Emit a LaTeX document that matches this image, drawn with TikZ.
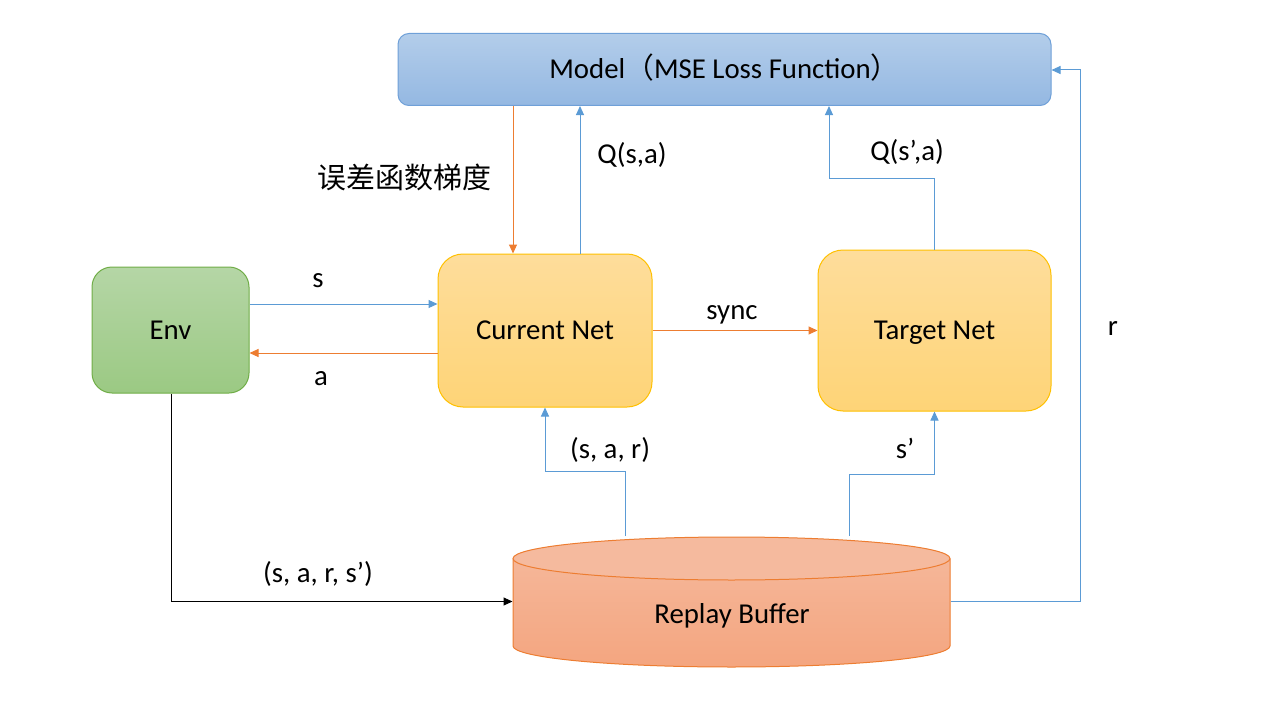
\documentclass[tikz,border=0pt]{standalone}
\usepackage{fontspec}
\setmainfont{Carlito}
\newfontfamily\cjk{Noto Sans CJK SC}
\usetikzlibrary{arrows.meta}
\definecolor{mtop}{HTML}{B3CDEA}
\definecolor{mbot}{HTML}{94B8E2}
\definecolor{mline}{HTML}{6FA0D8}
\definecolor{gtop}{HTML}{B5D6A6}
\definecolor{gbot}{HTML}{9BC983}
\definecolor{gline}{HTML}{70AD47}
\definecolor{ytop}{HTML}{FEDD9B}
\definecolor{ybot}{HTML}{FED477}
\definecolor{yline}{HTML}{FFC000}
\definecolor{btop}{HTML}{F5BA9E}
\definecolor{bbot}{HTML}{F4A57F}
\definecolor{bline}{HTML}{ED7D31}
\definecolor{lblue}{HTML}{5B9BD5}
\definecolor{lorange}{HTML}{ED7D31}
\begin{document}
\begin{tikzpicture}[x=1pt,y=-1pt,
  font=\fontsize{28.8}{34}\selectfont,
  boxnode/.style={line width=1pt, inner sep=0pt, text height=18.5pt, text depth=0pt},
  lbl/.style={anchor=base, inner sep=0pt},
  tipstyle/.style={-{Triangle[length=9pt,width=8pt]}},
  barrow/.style={draw=lblue, line width=1pt, tipstyle},
  oarrow/.style={draw=lorange, line width=1pt, tipstyle},
  karrow/.style={draw=black, line width=1pt, tipstyle}]
\useasboundingbox (0,0) rectangle (1262,709);

% boxes
\node[boxnode, draw=mline, top color=mtop, bottom color=mbot, rounded corners=11pt,
      minimum width=653pt, minimum height=72pt] (model) at (724.5,69.5)
      {Model{\cjk （}MSE Loss Function{\cjk ）}};
\node[boxnode, draw=gline, top color=gtop, bottom color=gbot, rounded corners=20pt,
      minimum width=157pt, minimum height=126pt] (env) at (170.5,330) {Env};
\node[boxnode, draw=yline, top color=ytop, bottom color=ybot, rounded corners=25pt,
      minimum width=214pt, minimum height=153pt] (cur) at (545,330.5) {Current Net};
\node[boxnode, draw=yline, top color=ytop, bottom color=ybot, rounded corners=25pt,
      minimum width=233pt, minimum height=161pt] (tgt) at (934.5,330.5) {Target Net};

% cylinder
\begin{scope}
  \clip (513,558.5) -- (513,646) arc[start angle=180,end angle=0,x radius=218.5,y radius=21]
        -- (950,558.5) arc[start angle=0,end angle=-180,x radius=218.5,y radius=21.5] -- cycle;
  \shade[top color=btop, bottom color=bbot] (510,535) rectangle (953,669);
\end{scope}
\draw[draw=bline, line width=1pt] (513,558.5) -- (513,646)
      arc[start angle=180,end angle=0,x radius=218.5,y radius=21] -- (950,558.5);
\draw[draw=bline, line width=1pt, fill=btop] (731.5,558.5) ellipse [x radius=218.5, y radius=21.5];
\node[boxnode, minimum width=437pt, minimum height=130pt] (rb) at (731.5,601.5) {};
\node[lbl] (rbtext) at (732,623) {Replay Buffer};

% connectors
\draw[oarrow] (model.south -| 513,0) -- (cur.north -| 513,0);
\draw[barrow] (cur.north -| 580,0) -- (model.south -| 580,0);
\draw[barrow] (tgt.north) |- (829,178) -- (model.south -| 829,0);
\draw[barrow] (env.east |- 0,304) -- (cur.west |- 0,304);
\draw[oarrow] (cur.west |- 0,353) -- (env.east |- 0,353);
\draw[oarrow] (cur.east) -- (tgt.west);
\draw[karrow] (env.south -| 171,0) |- (rb.west);
\draw[barrow] (rb.north -| 625,0) |- (545,471) -- (cur.south);
\draw[barrow] (rb.north -| 849,0) |- (934.5,474) -- (tgt.south);
\draw[barrow] (rb.east) -| (1080,70) -- (model.east |- 0,70);

% labels
\node[inner sep=0pt, font=\cjk\fontsize{29}{34}\selectfont] (grad) at (404,177) {误差函数梯度};
\node[lbl] (lqsa) at (632,163) {Q(s,a)};
\node[lbl] (lqsp) at (907,160) {Q(s’,a)};
\node[lbl] (ls) at (318,287) {s};
\node[lbl] (la) at (321,385) {a};
\node[lbl] (lsync) at (732,319) {sync};
\node[lbl] (lsar) at (610,458) {(s, a, r)};
\node[lbl] (lsp) at (905,458) {s’};
\node[lbl] (lsars) at (318,582) {(s, a, r, s’)};
\node[lbl] (lr) at (1113,335) {r};
\end{tikzpicture}
\end{document}
